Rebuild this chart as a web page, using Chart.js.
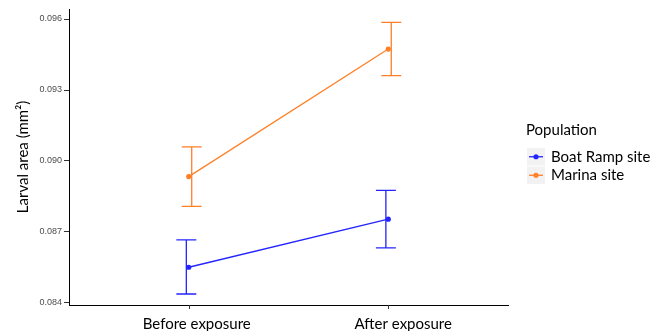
<!DOCTYPE html>
<html><head><meta charset="utf-8">
<script src="https://cdn.jsdelivr.net/npm/chart.js@4/dist/chart.umd.min.js"></script>
<style>html,body{margin:0;padding:0;background:#fff;overflow:hidden}#wrap{width:651px;height:331px}</style>
</head><body><div id="wrap"><canvas id="c" width="651" height="331"></canvas></div>
<script>
// ---- data ----
const categories = ['Before exposure', 'After exposure'];
const seriesNames = ['Boat Ramp site', 'Marina site'];
const boatRampMean  = [0.08551, 0.08754];
const boatRampLower = [0.08438, 0.08633];
const boatRampUpper = [0.08667, 0.08876];
const marinaMean  = [0.08934, 0.09473];
const marinaLower = [0.08808, 0.09361];
const marinaUpper = [0.09060, 0.09586];
const yTickValues = [0.084, 0.087, 0.090, 0.093, 0.096];
const legendTitle = 'Population';
const yAxisTitle = 'Larval area (mm²)';

// ---- styles ----
const COLORS = ['#2424ff', '#ff7f27'];
const DODGE = [-0.012, 0.015];
const CAP_HALF = 0.05;
const LABEL_SHIFT = [0.04, 0.075];   // reference labels sit slightly right of their ticks
const UI_FONT = 'Lato, "Open Sans", sans-serif';

const seriesMeans = [boatRampMean, marinaMean];
const seriesLower = [boatRampLower, marinaLower];
const seriesUpper = [boatRampUpper, marinaUpper];

const datasets = seriesNames.map((name, s) => ({
  label: name,
  data: categories.map((c, i) => ({x: i + 1, y: seriesMeans[s][i]})),
  borderColor: COLORS[s],
  backgroundColor: COLORS[s],
  borderWidth: 1.3,
  pointRadius: 2.6,
  pointHoverRadius: 2.6,
  pointBorderWidth: 0,
  fill: false,
  tension: 0
}));

const errorBarPlugin = {
  id: 'errorBars',
  beforeDatasetsDraw(chart) {
    const ctx = chart.ctx, xs = chart.scales.x, ys = chart.scales.y;
    ctx.save();
    ctx.lineWidth = 1.3;
    seriesNames.forEach((n, s) => {
      ctx.strokeStyle = COLORS[s];
      categories.forEach((c, i) => {
        const xc = i + 1 + DODGE[s];
        const px = xs.getPixelForValue(xc);
        const pl = xs.getPixelForValue(xc - CAP_HALF);
        const pr = xs.getPixelForValue(xc + CAP_HALF);
        const yt = ys.getPixelForValue(seriesUpper[s][i]);
        const yb = ys.getPixelForValue(seriesLower[s][i]);
        ctx.beginPath();
        ctx.moveTo(px, yt); ctx.lineTo(px, yb);
        ctx.moveTo(pl, yt); ctx.lineTo(pr, yt);
        ctx.moveTo(pl, yb); ctx.lineTo(pr, yb);
        ctx.stroke();
      });
    });
    ctx.restore();
  },
  afterDraw(chart) {
    // category tick marks on the x axis
    const ctx = chart.ctx, xs = chart.scales.x;
    ctx.save();
    ctx.strokeStyle = '#333';
    ctx.lineWidth = 1;
    categories.forEach((c, i) => {
      const px = Math.round(xs.getPixelForValue(i + 1)) + 0.5;
      ctx.beginPath();
      ctx.moveTo(px, xs.top);
      ctx.lineTo(px, xs.top + 4);
      ctx.stroke();
    });
    ctx.restore();
  }
};

const legendPlugin = {
  id: 'ggLegend',
  afterDraw(chart) {
    const ctx = chart.ctx;
    ctx.save();
    ctx.font = '15px ' + UI_FONT;
    ctx.fillStyle = '#000';
    ctx.textAlign = 'left';
    ctx.textBaseline = 'alphabetic';
    ctx.fillText(legendTitle, 526, 135);
    seriesNames.forEach((n, s) => {
      const y0 = 148 + s * 18.5;
      ctx.fillStyle = '#f2f2f2';
      ctx.fillRect(527, y0, 18, 17.5);
      const yc = y0 + 8.75;
      ctx.strokeStyle = COLORS[s];
      ctx.lineWidth = 1.3;
      ctx.beginPath(); ctx.moveTo(529, yc); ctx.lineTo(543, yc); ctx.stroke();
      ctx.fillStyle = COLORS[s];
      ctx.beginPath(); ctx.arc(536, yc, 2.6, 0, Math.PI * 2); ctx.fill();
      ctx.fillStyle = '#000';
      ctx.fillText(n, 551, yc + 5);
    });
    ctx.restore();
  }
};

new Chart(document.getElementById('c'), {
  type: 'line',
  data: {datasets},
  plugins: [errorBarPlugin, legendPlugin],
  options: {
    responsive: false,
    animation: false,
    devicePixelRatio: 1,
    layout: {padding: {top: 9, right: 143, bottom: 0, left: 0}},
    plugins: {legend: {display: false}, tooltip: {enabled: false}},
    scales: {
      x: {
        type: 'linear', min: 0.4, max: 2.6,
        afterBuildTicks: (axis) => { axis.ticks = categories.map((c, i) => ({value: i + 1 + LABEL_SHIFT[i]})); },
        afterFit: (scale) => { scale.height = 26; },
        ticks: {
          callback: (v, idx) => categories[idx] || '',
          font: {family: UI_FONT, size: 15}, color: '#000', padding: 10, maxRotation: 0, autoSkip: false
        },
        grid: {display: true, drawOnChartArea: false, drawTicks: false},
        border: {display: true, color: '#000', width: 1}
      },
      y: {
        type: 'linear', min: 0.083915, max: 0.096423,
        afterBuildTicks: (axis) => { axis.ticks = yTickValues.map(v => ({value: v})); },
        afterFit: (scale) => { scale.width = 69; },
        ticks: {
          callback: (v) => v.toFixed(3),
          font: {family: '"Liberation Sans", Arial, sans-serif', size: 9}, color: '#4d4d4d', padding: 2
        },
        grid: {display: true, drawOnChartArea: false, drawTicks: true, tickLength: 5, color: '#333', tickWidth: 1},
        border: {display: true, color: '#000', width: 1},
        title: {display: true, text: yAxisTitle, font: {family: UI_FONT, size: 15}, color: '#000', padding: {top: 14, bottom: 0}}
      }
    }
  }
});
</script></body></html>
